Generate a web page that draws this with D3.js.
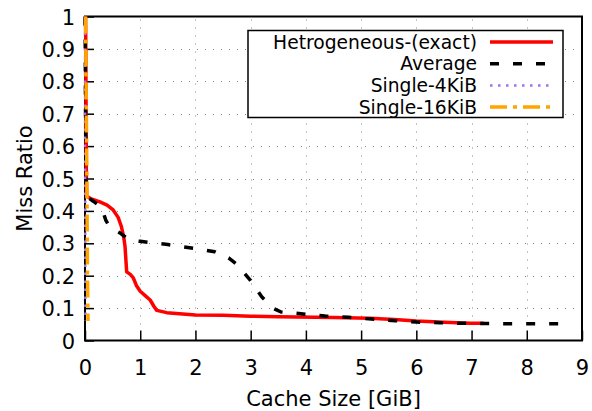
<!DOCTYPE html>
<html>
<head>
<meta charset="utf-8">
<script src="https://cdn.jsdelivr.net/npm/d3@7"></script>
<style>
  html, body { margin: 0; padding: 0; background: #fff; }
  svg { display: block; font-family: "DejaVu Sans", sans-serif; }
</style>
</head>
<body>
<svg id="chart" width="592" height="411"></svg>
<script>
// Miss ratio curves vs. cache size
const xTicks = [0, 1, 2, 3, 4, 5, 6, 7, 8, 9];
const yTicks = [0, 0.1, 0.2, 0.3, 0.4, 0.5, 0.6, 0.7, 0.8, 0.9, 1];
const yTickLabels = ["0", "0.1", "0.2", "0.3", "0.4", "0.5", "0.6", "0.7", "0.8", "0.9", "1"];

const seriesNames = ["Hetrogeneous-(exact)", "Average", "Single-4KiB", "Single-16KiB"];

const hetX = [0.01, 0.015, 0.02, 0.025, 0.03, 0.1, 0.27, 0.4, 0.51, 0.6, 0.66, 0.7, 0.725, 0.74, 0.755, 0.82, 0.875, 0.93, 1.0, 1.1, 1.18, 1.25, 1.3, 1.48, 2.0, 2.5, 3.0, 3.5, 4.5, 5.16, 5.6, 6.0, 6.5, 6.97, 7.22];
const hetY = [1.0, 0.9, 0.7, 0.5, 0.445, 0.438, 0.428, 0.418, 0.403, 0.38, 0.351, 0.32, 0.29, 0.25, 0.212, 0.204, 0.193, 0.17, 0.152, 0.137, 0.125, 0.105, 0.093, 0.086, 0.079, 0.078, 0.075, 0.073, 0.071, 0.0685, 0.065, 0.06, 0.056, 0.053, 0.053];

const avgX = [0, 0.005, 0.01, 0.02, 0.15, 0.3, 0.38, 0.45, 0.65, 0.8, 1.0, 1.5, 2.0, 2.35, 2.6, 2.75, 3.0, 3.2, 3.4, 3.55, 3.95, 4.35, 4.77, 5.19, 5.62, 6.0, 6.43, 6.85, 7.5, 8.0, 8.6];
const avgY = [1.0, 0.9, 0.7, 0.445, 0.43, 0.41, 0.37, 0.35, 0.33, 0.31, 0.306, 0.296, 0.284, 0.274, 0.255, 0.235, 0.185, 0.135, 0.1, 0.088, 0.082, 0.0756, 0.0716, 0.066, 0.061, 0.057, 0.055, 0.053, 0.052, 0.052, 0.052];

const s4X = [0, 0.003, 0.006, 0.01];
const s4Y = [1.0, 0.6, 0.2, 0.06];

const s16X = [0.01, 0.03, 0.045, 0.055];
const s16Y = [1.0, 0.6, 0.2, 0.06];

const colors = ["#ff0000", "#000000", "#a070f0", "#ffa500"];
const dashes = [null, "9,14", "2.5,5.5", "17,6,4,6"];
const widths = [3.5, 3.5, 2.5, 3.5];

const svg = d3.select("#chart");
const margin = { left: 85, right: 10, top: 16.5, bottom: 70.5 };
const W = 592, H = 411;

const x = d3.scaleLinear().domain([0, 9]).range([margin.left, W - margin.right]);
const y = d3.scaleLinear().domain([0, 1]).range([H - margin.bottom, margin.top]);

const tickFont = 21;
const keyFont = 18.7;

// grid
const grid = svg.append("g").attr("stroke", "#888").attr("stroke-width", 1).attr("stroke-dasharray", "1,7");
grid.selectAll(".gx").data(xTicks.slice(1, -1)).join("line")
  .attr("x1", d => Math.round(x(d)) + 0.5).attr("x2", d => Math.round(x(d)) + 0.5)
  .attr("y1", y(0)).attr("y2", y(1));
grid.selectAll(".gy").data(yTicks.slice(1, -1)).join("line")
  .attr("y1", d => Math.round(y(d)) + 0.5).attr("y2", d => Math.round(y(d)) + 0.5)
  .attr("x1", x(0)).attr("x2", x(9));

// axes with inward ticks
const xAxis = d3.axisBottom(x).tickValues(xTicks).tickSize(-10).tickFormat(d3.format("d"));
const yAxis = d3.axisLeft(y).tickValues(yTicks).tickSize(-9).tickFormat((d, i) => yTickLabels[i]);

const gx = svg.append("g").attr("transform", `translate(0,${y(0)})`).call(xAxis);
const gy = svg.append("g").attr("transform", `translate(${x(0)},0)`).call(yAxis);
[gx, gy].forEach(g => {
  g.select(".domain").remove();
  g.selectAll(".tick line").attr("stroke", "#000").attr("stroke-width", 1.5);
  g.selectAll(".tick text").attr("font-size", tickFont).attr("fill", "#000").attr("font-family", "DejaVu Sans");
});
gx.selectAll(".tick text").attr("dy", null).attr("y", 375 - y(0));
gy.selectAll(".tick text").attr("x", -10).attr("dy", "0.36em");

// frame
svg.append("rect").attr("x", x(0)).attr("y", y(1)).attr("width", x(9) - x(0)).attr("height", y(0) - y(1))
  .attr("fill", "none").attr("stroke", "#000").attr("stroke-width", 2);

// clip for data lines
svg.append("clipPath").attr("id", "plotclip").append("rect")
  .attr("x", x(0) - 3).attr("y", y(1) - 2).attr("width", x(9) - x(0) + 3).attr("height", y(0) - y(1) + 2);

const line = d3.line().x(d => x(d[0])).y(d => y(d[1]));
const series = [
  d3.zip(hetX, hetY),
  d3.zip(avgX, avgY),
  d3.zip(s4X, s4Y),
  d3.zip(s16X, s16Y)
];

const plot = svg.append("g").attr("clip-path", "url(#plotclip)");
series.forEach((pts, i) => {
  plot.append("path").datum(pts)
    .attr("d", line)
    .attr("fill", "none")
    .attr("stroke", colors[i])
    .attr("stroke-width", widths[i])
    .attr("stroke-dasharray", dashes[i])
    .attr("stroke-linejoin", "round");
});

// legend
const lg = svg.append("g");
lg.append("rect").attr("x", 248).attr("y", 30.5).attr("width", 315).attr("height", 87)
  .attr("fill", "#fff").attr("stroke", "#000").attr("stroke-width", 1.5);
seriesNames.forEach((name, i) => {
  const cy = 42 + i * 21.7;
  lg.append("text").attr("x", 477).attr("y", cy).attr("dy", "0.36em")
    .attr("text-anchor", "end").attr("font-size", keyFont).attr("fill", "#000").text(name);
  lg.append("line").attr("x1", 490).attr("x2", 553).attr("y1", cy).attr("y2", cy)
    .attr("stroke", colors[i]).attr("stroke-width", widths[i]).attr("stroke-dasharray", dashes[i]);
});

// axis titles
svg.append("text").attr("x", (x(0) + x(9)) / 2).attr("y", 405.5)
  .attr("text-anchor", "middle").attr("font-size", tickFont).text("Cache Size [GiB]");
svg.append("text").attr("transform", `translate(24,${(y(0) + y(1)) / 2}) rotate(-90)`)
  .attr("dy", "0.36em").attr("text-anchor", "middle").attr("font-size", tickFont).text("Miss Ratio");
</script>
</body>
</html>
